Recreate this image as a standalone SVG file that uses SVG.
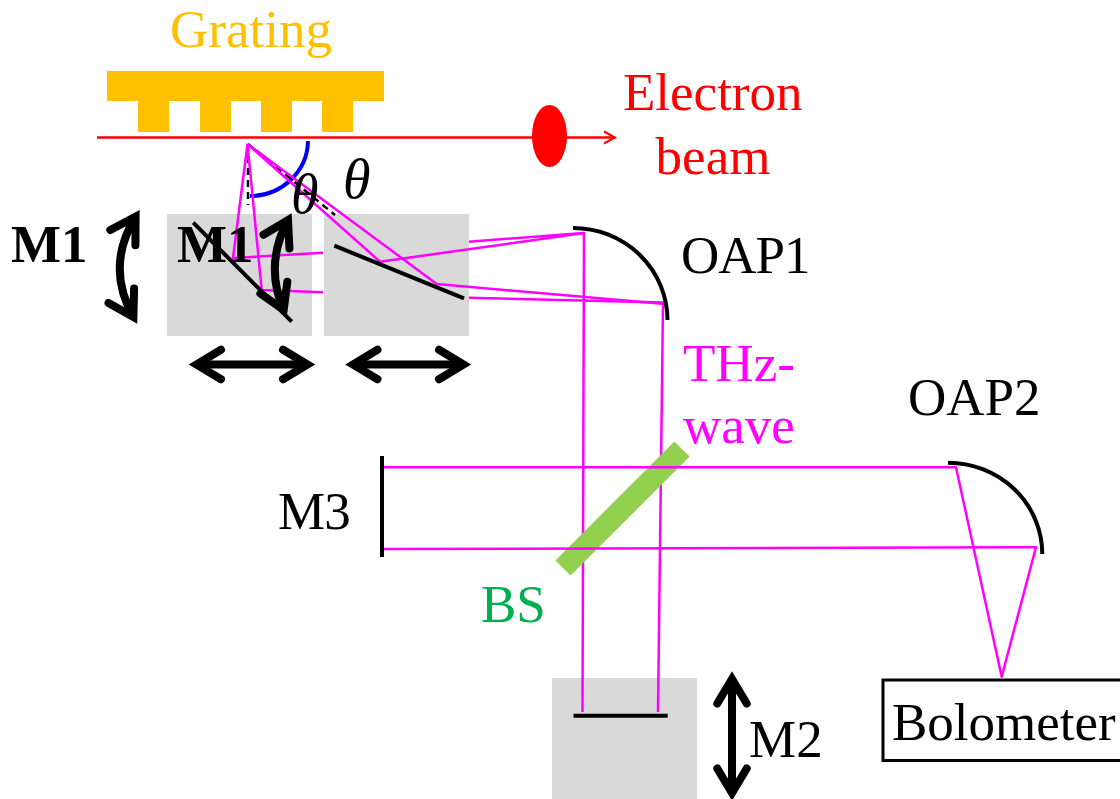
<svg xmlns="http://www.w3.org/2000/svg" width="1120" height="799" viewBox="0 0 1120 799">
<style>
text{font-family:"Liberation Serif","Times New Roman",serif;font-size:53px;fill:#000}
.bold{font-weight:bold}
.theta{font-style:italic;font-size:56px}
.stage{fill:#d9d9d9}
.ray{fill:none;stroke:#f0f;stroke-width:2.500;stroke-linejoin:round}
.mirror{fill:none;stroke:#000;stroke-width:4}
.move{fill:none;stroke:#000;stroke-width:8;marker-start:url(#head);marker-end:url(#head)}
.dash{fill:none;stroke:#000;stroke-width:2.500;stroke-dasharray:7 5}
</style>
<defs>
<marker id="head" markerUnits="userSpaceOnUse" viewBox="-32 -22 44 44" refX="0" refY="0" markerWidth="44" markerHeight="44" orient="auto-start-reverse">
<path d="M-24.500,-14.700L0,0L-24.500,14.700" fill="none" stroke="#000" stroke-width="8" stroke-linecap="round"/>
</marker>
<marker id="open" markerUnits="userSpaceOnUse" viewBox="-14 -8 16 16" refX="0" refY="0" markerWidth="16" markerHeight="16" orient="auto">
<path d="M-11,-6L0,0L-11,6" fill="none" stroke="#f00" stroke-width="2"/>
</marker>
</defs>
<g id="grating">
<path d="M107,71H384V101H353V132H322V101H292V132H261V101H231V132H200V101H169V132H138V101H107Z" fill="#ffc000"/>
<text x="170" y="47" style="fill:#ffc000">Grating</text>
</g>
<g id="stage-m1"><rect class="stage" x="167" y="214" width="145" height="122"/></g>
<g id="stage-m1b"><rect class="stage" x="324" y="214" width="145" height="122"/></g>
<g id="stage-m2"><rect class="stage" x="552" y="678" width="145" height="121"/></g>
<g id="connectors">
<path d="M97,137.500H615" fill="none" stroke="#f00" stroke-width="2.500" marker-end="url(#open)"/>
<path d="M308,141A58,56 0 0 1 250,196" fill="none" stroke="#00f" stroke-width="4"/>
<path class="dash" d="M248,144V205M248,144L335,215"/>
<path class="ray" d="M247.500,144L233,258L323,252.700M247.500,144L261.700,290L323,292.300"/>
<path class="ray" d="M247.500,144L380,261.700L584,233M247.500,144L436.700,284L665,304"/>
<path class="ray" d="M469,241.700L584,233L582.500,712M469,297.700L663,302.500L658,712"/>
<path d="M563,568L682,449" stroke="#92d050" stroke-width="21.500" fill="none"/>
<path class="ray" d="M382,467.300H956L1001.700,676.700L1036,547.300L382,549"/>
</g>
<g id="m1"><path class="mirror" d="M193.300,222.700L291.700,321.700"/><text class="bold" x="177" y="262">M1</text></g>
<g id="m1b"><path class="mirror" d="M334.300,245.700L464,298.300"/></g>
<g id="oap1"><path class="mirror" d="M573,228A94.500,92 0 0 1 667.500,320"/><text x="681" y="273" letter-spacing="-1">OAP1</text></g>
<g id="oap2"><path class="mirror" d="M948,462.700A94.300,91.300 0 0 1 1042.300,554"/><text x="908" y="415">OAP2</text></g>
<g id="m2"><path class="mirror" d="M573.500,715.700H667.700"/><text x="749" y="757">M2</text></g>
<g id="m3"><path class="mirror" d="M382,456V557"/><text x="278" y="529" letter-spacing="-1">M3</text></g>
<g id="bolometer"><rect x="883" y="680" width="245" height="80.500" fill="#fff" stroke="#000" stroke-width="3"/><text x="892" y="740">Bolometer</text></g>
<g id="beam"><ellipse cx="549.500" cy="136" rx="17.500" ry="31" fill="#f00"/>
<text x="623" y="110" style="fill:#f00">Electron</text><text x="713" y="174" text-anchor="middle" style="fill:#f00">beam</text></g>
<g id="labels">
<text class="theta" x="291" y="213">θ</text><text class="theta" x="343" y="198">θ</text>
<text class="bold" x="11" y="262">M1</text>
<text x="683" y="381" style="fill:#f0f">THz-</text><text x="683" y="443" style="fill:#f0f">wave</text>
<text x="481" y="622" style="fill:#00b050">BS</text>
</g>
<g id="moves">
<path class="move" d="M135.600,216.700Q105,267 133.400,317"/>
<path class="move" d="M288,220Q264,265 283.700,310"/>
<path class="move" d="M196.500,364.500H307.500"/>
<path class="move" d="M353,364.500H463.500"/>
<path class="move" d="M732,679V793"/>
</g>
</svg>
